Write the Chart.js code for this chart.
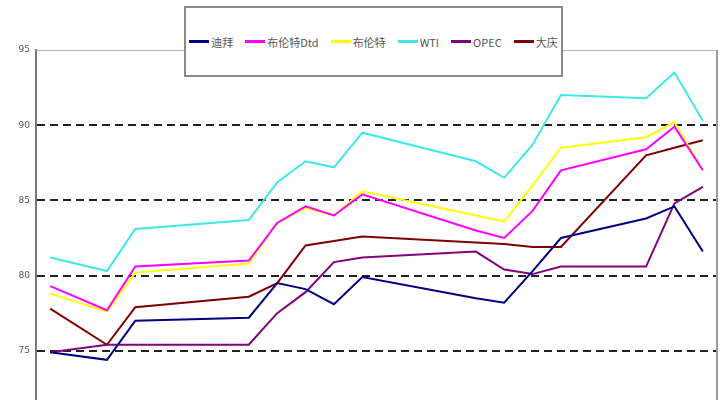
<!DOCTYPE html>
<html>
<head>
<meta charset="utf-8">
<script src="https://cdn.jsdelivr.net/npm/chart.js@4"></script>
<style>
  body { margin: 0; overflow: hidden; background: #fff; }
  #wrap { position: relative; width: 720px; height: 440px; }
  #legend {
    position: absolute; left: 184px; top: 6px; width: 375px; height: 67px;
    border: 2px solid #8a8a8a; background: #fff;
    display: flex; align-items: center; justify-content: center; gap: 12px;
    font: 11px "Noto Sans CJK SC", "DejaVu Sans", sans-serif; color: #555;
  }
  .item { display: flex; align-items: center; gap: 2px; }
  .swatch { width: 20px; height: 3px; }
</style>
</head>
<body>
<div id="wrap">
  <canvas id="chart"></canvas>
  <div id="legend"></div>
</div>
<script>
// x position of each observation (period index), values per series
const periods = [1, 3, 4, 8, 9, 10, 11, 12, 16, 17, 18, 19, 22, 23, 24];
const seriesNames = ['迪拜', '布伦特Dtd', '布伦特', 'WTI', 'OPEC', '大庆'];
const seriesColors = ['#000080', '#ff00ff', '#ffff00', '#3ee8e8', '#800080', '#800000'];

const dubai    = [74.9, 74.4, 77.0, 77.2, 79.5, 79.1, 78.1, 79.9, 78.5, 78.2, 80.3, 82.5, 83.8, 84.6, 81.6];
const brentDtd = [79.3, 77.7, 80.6, 81.0, 83.5, 84.6, 84.0, 85.4, 83.0, 82.5, 84.3, 87.0, 88.4, 89.9, 87.0];
const brent    = [78.8, 77.6, 80.2, 80.8, 83.5, 84.5, 84.0, 85.6, 84.0, 83.6, 86.0, 88.5, 89.2, 90.2, 87.0];
const wti      = [81.2, 80.3, 83.1, 83.7, 86.2, 87.6, 87.2, 89.5, 87.6, 86.5, 88.7, 92.0, 91.8, 93.5, 90.3];
const opec     = [74.9, 75.4, 75.4, 75.4, 77.5, 78.9, 80.9, 81.2, 81.6, 80.4, 80.1, 80.6, 80.6, 84.8, 85.9];
const daqing   = [77.8, 75.4, 77.9, 78.6, 79.5, 82.0, 82.3, 82.6, 82.2, 82.1, 81.9, 81.9, 88.0, 88.5, 89.0];

const yTicks = [70, 75, 80, 85, 90, 95];

const allSeries = [dubai, brentDtd, brent, wti, opec, daqing];

const datasets = allSeries.map((vals, i) => ({
    label: seriesNames[i],
    data: vals.map((v, j) => ({ x: periods[j], y: v })),
    borderColor: seriesColors[i],
    backgroundColor: seriesColors[i],
    borderWidth: 2,
    pointRadius: 0,
    tension: 0
}));

// html legend
const legend = document.getElementById('legend');
seriesNames.forEach((name, i) => {
    const item = document.createElement('div');
    item.className = 'item';
    item.innerHTML = `<span class="swatch" style="background:${seriesColors[i]}"></span><span>${name}</span>`;
    legend.appendChild(item);
});

const frame = {
    id: 'frame',
    beforeDatasetsDraw(chart) {
        const { ctx, chartArea: a } = chart;
        ctx.save();
        ctx.strokeStyle = '#b5b5b5';
        ctx.lineWidth = 1;
        ctx.beginPath();
        ctx.moveTo(a.left, a.top + 0.5);
        ctx.lineTo(a.right, a.top + 0.5);
        ctx.stroke();
        ctx.strokeStyle = '#9a9a9a';
        ctx.lineWidth = 2;
        ctx.beginPath();
        ctx.moveTo(a.right, a.top);
        ctx.lineTo(a.right, a.bottom);
        ctx.stroke();
        ctx.restore();
    }
};

new Chart(document.getElementById('chart'), {
    type: 'line',
    data: { datasets },
    options: {
        responsive: true,
        maintainAspectRatio: false,
        animation: false,
        layout: { padding: { top: 50, right: 3, bottom: 14, left: 0 } },
        plugins: { legend: { display: false }, tooltip: { enabled: false } },
        scales: {
            x: {
                type: 'linear',
                min: 0.5,
                max: 24.5,
                display: false
            },
            y: {
                min: yTicks[0],
                max: yTicks[yTicks.length - 1],
                afterFit: scale => { scale.width = 36; },
                afterBuildTicks: scale => { scale.ticks = yTicks.map(v => ({ value: v })); },
                ticks: {
                    padding: 6,
                    color: '#555',
                    font: { size: 9, family: 'DejaVu Sans' }
                },
                grid: {
                    drawTicks: false,
                    lineWidth: 2,
                    color: ctx => (ctx.tick && (ctx.tick.value === 95 || ctx.tick.value === 70)) ? 'rgba(0,0,0,0)' : '#222'
                },
                border: { display: true, color: '#777', width: 2, dash: [8, 5] }
            }
        }
    },
    plugins: [frame]
});
</script>
</body>
</html>
